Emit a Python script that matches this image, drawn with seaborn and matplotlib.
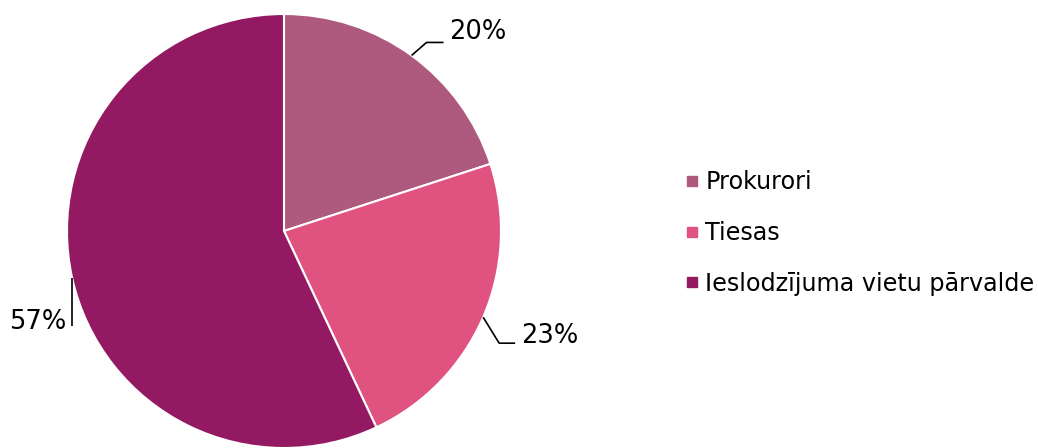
import numpy as np
import matplotlib
matplotlib.use("Agg")
import matplotlib.pyplot as plt
from matplotlib.lines import Line2D
import seaborn as sns

categories = ["Prokurori", "Tiesas", "Ieslodzījuma vietu pārvalde"]
values = [20, 23, 57]
labels = ["20%", "23%", "57%"]
colors = ["#AE597E", "#E0527F", "#931A62"]

sns.set_theme(style="white")
plt.rcParams['font.family'] = ['DejaVu Sans']

W, H = 1038, 448
fig = plt.figure(figsize=(W / 100, H / 100), dpi=100)
ax = fig.add_axes([0, 0, 1, 1])

cx, cy, r = 284, H - 231, 217
wedges, _ = ax.pie(values, colors=colors, startangle=90, counterclock=False,
                   center=(cx, cy), radius=r, frame=True,
                   wedgeprops=dict(edgecolor="white", linewidth=1.5))
ax.set_xlim(0, W)
ax.set_ylim(0, H)
ax.axis("off")

# leader line offsets (diag dx, dy, horizontal length, text side)
leaders = [
    dict(dx=15, dy=13, hx=17, ha="left", ty=10),
    dict(dx=16, dy=-26, hx=16, ha="left", ty=7),
    dict(dx=0, dy=-48, hx=0, ha="right", ty=4),
]
for w, lab, ld in zip(wedges, labels, leaders):
    ang = np.deg2rad((w.theta1 + w.theta2) / 2)
    x0 = cx + r * np.cos(ang)
    y0 = cy + r * np.sin(ang)
    x1, y1 = x0 + ld["dx"], y0 + ld["dy"]
    x2 = x1 + ld["hx"]
    ax.plot([x0, x1, x2], [y0, y1, y1], color="black", lw=1.2, solid_capstyle="butt")
    if ld["ha"] == "left":
        ax.text(x2 + 6, y1 + ld["ty"], lab, ha="left", va="center", fontsize=18.5, color="black")
    else:
        ax.text(x1 - 6, y1 + ld["ty"], lab, ha="right", va="center", fontsize=18.5, color="black")

handles = [Line2D([0], [0], marker="s", linestyle="none", markersize=7,
                  markerfacecolor=c, markeredgecolor=c) for c in colors]
leg = fig.legend(handles, categories, loc="center left",
                 bbox_to_anchor=(685 / W, 1 - 233 / H), frameon=False,
                 fontsize=17.2, handlelength=0.6, handletextpad=0.25,
                 labelspacing=1.12, borderpad=0, borderaxespad=0)
for t in leg.get_texts():
    t.set_color("black")

fig.savefig("out.png", dpi=100)
